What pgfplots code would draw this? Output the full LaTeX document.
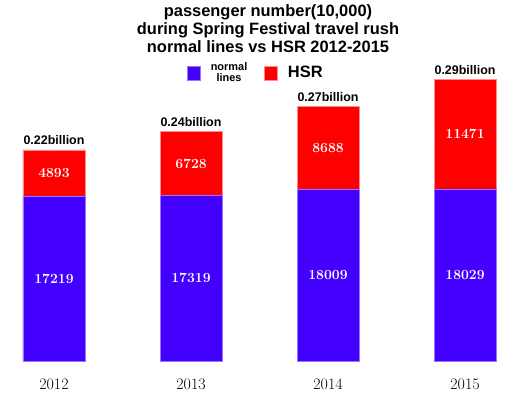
\documentclass[border=0pt]{standalone}
\usepackage{pgfplots}
\pgfplotsset{compat=1.18}
\usepackage{fontspec}
\newfontfamily\hv{Liberation Sans}
\definecolor{nblue}{RGB}{68,0,255}
\definecolor{hred}{RGB}{255,0,0}
\begin{document}
\begin{tikzpicture}
\useasboundingbox (0,0) rectangle (516bp,394bp);
\begin{axis}[at={(0,33bp)}, anchor=south west, scale only axis,
  width=516bp, height=361bp,
  xmin=-0.394, xmax=3.372, ymin=0, ymax=37830,
  ybar stacked, bar width=62bp,
  axis line style={draw=none}, major tick length=0pt,
  xtick={0,1,2,3}, xticklabels={2012,2013,2014,2015}, ytick=\empty,
  xticklabel style={font=\fontsize{16}{16}\selectfont, inner sep=0pt, anchor=north, yshift=-18bp},
  clip=false,
  legend columns=2,
  legend style={draw=none, fill=none, inner sep=0pt, font=\hv\bfseries,
    at={(0.3624,0.798)}, anchor=west,
    /tikz/every odd column/.append style={column sep=10bp},
    /tikz/every even column/.append style={column sep=17bp},
    nodes={inner sep=0pt}},
  legend image code/.code={\fill[#1] (0bp,-7bp) rectangle (13bp,7bp);},
]
\addplot[fill=nblue, draw=nblue!55!white, line width=0.6bp] coordinates {(0,17219) (1,17319) (2,18009) (3,18029)};
\addplot[fill=hred, draw=hred!45!white, line width=0.6bp] coordinates {(0,4893) (1,6728) (2,8688) (3,11471)};
\legend{{\fontsize{11}{13}\selectfont\shortstack{normal\\lines}},{\fontsize{16.5}{18}\selectfont HSR}}
\coordinate (b0) at (axis cs:0,8609.5);
\coordinate (b1) at (axis cs:1,8659.5);
\coordinate (b2) at (axis cs:2,9004.5);
\coordinate (b3) at (axis cs:3,9014.5);
\coordinate (r0) at (axis cs:0,19665.5);
\coordinate (r1) at (axis cs:1,20683);
\coordinate (r2) at (axis cs:2,22353);
\coordinate (r3) at (axis cs:3,23764.5);
\coordinate (t0) at (axis cs:0,22112);
\coordinate (t1) at (axis cs:1,24047);
\coordinate (t2) at (axis cs:2,26697);
\coordinate (t3) at (axis cs:3,29500);
\end{axis}
\tikzset{vl/.style={text=white, font=\bfseries\fontsize{14}{14}\selectfont, anchor=center},
         tl/.style={font=\hv\bfseries\fontsize{12.5}{13}\selectfont, anchor=base, yshift=5bp, inner sep=0pt}}
\node[vl] at (b0) {17219};
\node[vl] at (b1) {17319};
\node[vl] at (b2) {18009};
\node[vl] at (b3) {18029};
\node[vl] at (r0) {4893};
\node[vl] at (r1) {6728};
\node[vl] at (r2) {8688};
\node[vl] at (r3) {11471};
\node[tl] at (t0) {0.22billion};
\node[tl] at (t1) {0.24billion};
\node[tl] at (t2) {0.27billion};
\node[tl] at (t3) {0.29billion};
\begin{scope}[every node/.style={font=\hv\bfseries\fontsize{16.5}{18}\selectfont, anchor=base, inner sep=0pt}]
\node at (268bp,377.5bp) {passenger number(10,000)};
\node at (268bp,359.5bp) {during Spring Festival travel rush};
\node at (268bp,341.5bp) {normal lines vs HSR 2012-2015};
\end{scope}
\end{tikzpicture}
\end{document}
